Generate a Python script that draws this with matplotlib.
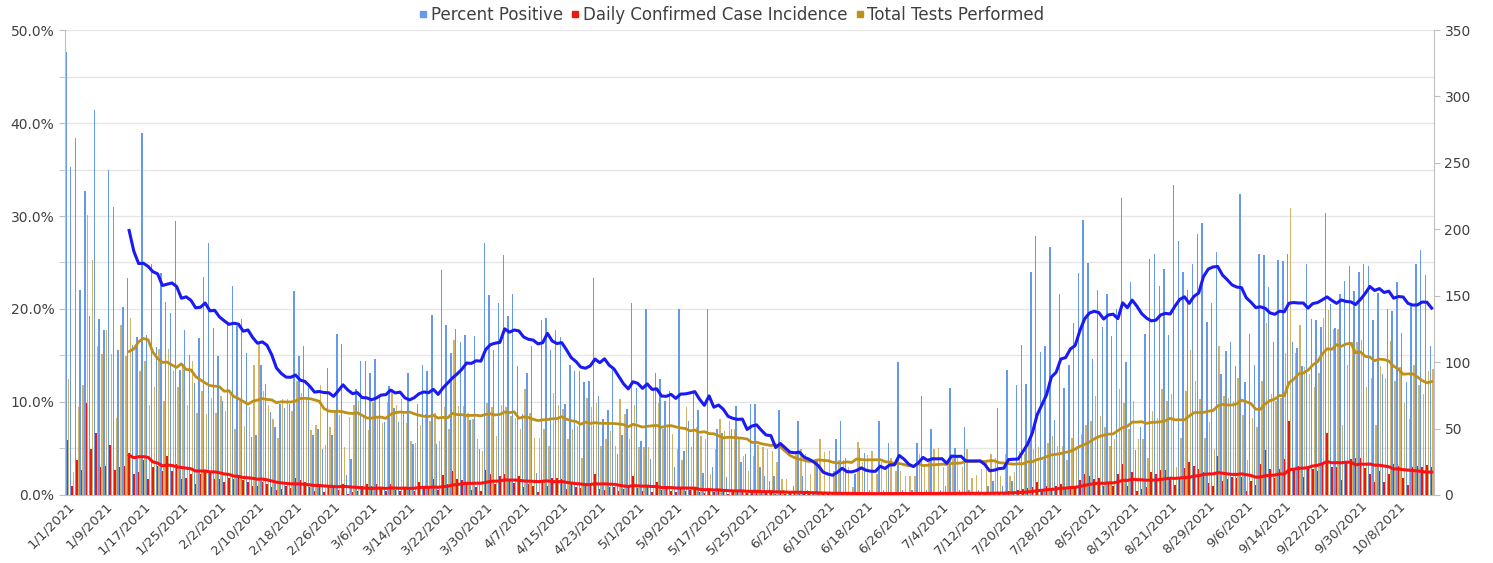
import matplotlib.pyplot as plt
import matplotlib.ticker as mtick
from matplotlib.lines import Line2D
import numpy as np
import pandas as pd

# === Daily data, 1/1/2021 - 10/15/2021 ===
dates = pd.date_range("2021-01-01", "2021-10-15", freq="D")

# percent positive (left axis, %)
pct_positive = [
    47.6, 35.3, 38.4, 22.0, 32.7, 19.2, 41.4, 18.9, 17.7, 34.9, 31.0, 15.6, 20.2, 23.3, 16.1, 17.0, 38.9, 17.2, 24.8, 15.9, 23.9, 20.8, 19.6,
    29.5, 13.4, 17.7, 15.0, 12.0, 16.9, 23.4, 27.1, 18.0, 14.9, 10.1, 18.5, 22.5, 18.2, 18.9, 15.3, 6.2, 6.5, 14.0, 11.9, 8.9, 7.3, 9.8, 9.4,
    9.8, 21.9, 14.9, 16.0, 11.9, 6.4, 7.1, 4.9, 13.7, 6.5, 17.3, 16.2, 2.1, 3.9, 11.4, 14.4, 14.4, 13.1, 14.6, 10.8, 7.8, 11.7, 9.4, 7.8, 8.7,
    13.1, 5.5, 9.8, 14.0, 13.3, 19.4, 5.5, 24.2, 18.3, 15.3, 17.9, 16.5, 17.2, 8.1, 17.1, 4.9, 27.1, 21.5, 15.6, 20.6, 25.8, 19.2, 21.6, 13.9,
    8.7, 13.1, 16.0, 2.4, 18.8, 19.0, 15.6, 17.7, 17.0, 9.8, 14.0, 13.3, 13.3, 12.1, 12.3, 23.3, 10.6, 8.2, 9.1, 13.5, 4.4, 6.5, 9.3, 20.6,
    11.5, 5.8, 20.0, 3.9, 13.1, 12.5, 10.1, 11.2, 3.0, 20.0, 4.7, 8.0, 11.2, 9.1, 2.4, 20.0, 3.0, 7.1, 6.7, 1.9, 7.1, 9.6, 3.5, 4.4,
    9.8, 9.8, 3.0, 2.0, 1.5, 2.0, 9.1, 0.5, 0.3, 1.0, 8.0, 2.0, 0.5, 0.3, 3.9, 0.2, 0.2, 0.2, 6.0, 8.0, 4.0, 0.2, 2.3, 5.0, 4.5,
    0.5, 0.3, 8.0, 0.5, 5.6, 0.3, 14.3, 0.5, 0.3, 0.5, 5.6, 10.6, 0.5, 7.1, 0.3, 0.5, 1.0, 11.5, 5.1, 0.5, 7.3, 0.5, 0.3, 0.5, 0.3, 1.0, 1.5,
    9.4, 1.0, 13.4, 1.5, 11.8, 16.1, 11.9, 24.0, 27.8, 15.4, 16.0, 26.7, 8.1, 21.6, 11.5, 14.0, 18.5, 23.9, 29.6, 24.9, 14.6,
    22.0, 18.1, 21.6, 17.1, 20.0, 31.9, 14.3, 22.9, 4.8, 7.3, 17.3, 25.4, 25.9, 22.5, 24.3, 17.2, 33.3, 27.3, 24.0, 22.0, 24.8, 28.1, 29.3, 18.6,
    20.6, 26.1, 13.0, 15.5, 16.5, 13.9, 32.4, 12.1, 17.3, 14.0, 25.9, 25.8, 22.4, 16.5, 25.3, 25.2, 25.9, 16.5, 15.8, 13.9, 24.8, 18.9, 18.8, 18.1,
    30.3, 20.5, 18.0, 21.6, 23.0, 24.6, 21.9, 24.0, 24.8, 24.6, 18.8, 21.7, 13.0, 20.0, 19.8, 22.9, 17.4, 12.1, 20.3, 24.8, 26.3, 23.7, 16.0,
]

# daily confirmed case incidence (right axis)
incidence = [
    41.5, 7, 26, 19, 69.5, 34.5, 47, 21, 22, 37.5, 19, 21, 22, 31.5, 16, 17.5, 26.5, 12, 21, 22, 18, 29.5, 18,
    23, 12, 13, 16, 8, 16, 18, 17, 12, 12, 9.5, 13, 12, 14.5, 11, 9.5, 7, 7, 9.5, 8, 6, 4, 4.5, 7,
    5, 12.5, 11, 10, 6, 3, 7, 2, 6, 5, 4, 8, 1, 2, 3, 7, 8, 7, 8, 5, 3, 8, 4, 3, 6,
    4, 3, 10, 5, 6, 12, 4, 15, 8, 18, 12, 11, 10, 4, 6, 3, 19, 16, 8, 14, 16, 12, 9, 14.5,
    6, 8.5, 7, 2, 9.5, 7, 12.75, 12.75, 12, 4.5, 8.5, 6, 5, 7, 8.5, 16, 4.5, 3.75, 6, 6, 3.25, 4.5, 6, 14.5,
    5, 3, 6, 2, 9.5, 4, 5, 3, 2, 6, 3, 4, 5, 2, 1.5, 4, 2, 3, 4, 1, 2.5, 3, 2, 1.5,
    3, 4, 2, 1.5, 2, 1, 2.5, 1, 1.5, 2, 1, 1.5, 1, 0.5, 1, 2, 1, 0.5, 1.5, 1, 1, 0.5, 1, 1.5, 1,
    1, 0.5, 1.5, 1, 2, 0.5, 1, 1.5, 0.5, 1, 2, 1.5, 0.5, 1, 2.5, 1, 0.5, 1.5, 2.5, 1, 1.5, 1, 0.5, 1, 2, 1.5, 2,
    2, 1.5, 3, 2.5, 4, 4.5, 5, 6, 10, 4.5, 7, 5, 7, 8, 4.5, 7, 6, 11, 16, 14.5, 12,
    13, 7, 9.5, 7, 16, 23, 7, 17, 3, 4.5, 5.75, 17, 16, 19, 19, 13, 7.5, 12, 20, 24.5, 22, 19.5, 17, 9,
    7, 29.5, 10.75, 12, 13.25, 12.75, 13.75, 3.25, 10.75, 7.5, 23, 34, 19.5, 12.75, 19.5, 27, 56, 19.5, 22, 13.75, 20.75, 19.5, 17.75, 23.75,
    47, 20.75, 20.75, 11.25, 25.75, 27, 28, 28, 20, 16, 9.5, 18, 9.5, 16, 23.25, 22, 12.75, 7.5, 21.25, 22, 20.75, 22.5, 20.75,
]

# total tests performed (right axis)
tests = [
    87, 17, 66, 83, 211, 177, 112, 106, 124.5, 106, 58, 128, 104.5, 133, 113, 93, 101, 68, 81, 110, 71, 110, 93,
    81, 96, 68, 101, 62, 78, 61, 73, 62, 74.5, 63, 76, 49.5, 71, 52, 66, 98, 114.5, 78, 68, 57, 43, 72, 72,
    63, 86, 77, 72, 49, 53, 83, 38, 51, 64, 60, 36, 59, 68, 71, 59, 49, 70, 59, 54, 70, 80, 68, 72,
    54.5, 41, 39.5, 53, 61, 56, 62, 41, 66, 49.5, 117, 67, 67, 62, 57, 42, 33, 69.5, 66, 44.5, 68, 66, 59.5, 58, 50,
    79.5, 62, 43, 43, 49.5, 37, 77, 68, 64.5, 42, 49.5, 52, 28, 73, 66, 69.5, 37, 42, 48, 37, 72, 61, 42, 68,
    36, 36, 36, 79, 69.5, 49.5, 51, 46, 34.5, 26, 66, 36, 51, 44.5, 42, 16, 34.5, 57, 48, 56, 49.5, 42, 29.5, 18,
    29.5, 38, 36, 34.5, 33, 24.5, 12, 12, 3, 31, 34.5, 31, 16, 23, 42, 32, 33, 18, 26, 26, 21, 6, 40, 25,
    30, 33, 16, 25, 20, 28, 18, 18, 14.5, 14.5, 14.5, 31, 23, 28, 34.5, 35, 21, 22, 30, 30, 21, 34.5, 13, 15,
    19.5, 26, 31, 28, 14.5, 31, 14.5, 17, 33, 31, 42, 34.5, 36, 26, 39.5, 44.5, 37, 37, 26, 43, 37, 46, 53, 56, 74.5,
    59.5, 51, 37, 42, 79.5, 69.5, 49.5, 71, 42, 42, 28, 63, 58, 79.5, 71, 76, 21, 43, 78, 109.5, 86, 72, 43, 55,
    34.5, 112, 74.5, 73, 71, 88, 60, 26, 58, 51, 86, 129.5, 76, 71, 73, 107, 216, 107, 128, 96, 91, 81, 92, 133,
    139.5, 125, 125, 53, 98, 115, 115, 117, 81, 88, 53, 97, 88, 116, 86, 96, 69.5, 57, 98, 83, 76, 93, 94.5,
]

series_names = ["Percent Positive", "Daily Confirmed Case Incidence", "Total Tests Performed"]

# === Colors ===
BLUE, RED, GOLD = "#6699EA", "#E8190E", "#C9A240"
BLUE_LINE, RED_LINE, GOLD_LINE = "#1A1AF5", "#FF1010", "#BF9018"
GRID, AXIS, TXT = "#E6E6E6", "#BFBFBF", "#404040"

df = pd.DataFrame({"pct": pct_positive, "inc": incidence, "tests": tests}, index=dates)
avg = df.rolling(14).mean()  # 14 day moving average
x = np.arange(len(df))

fig = plt.figure(figsize=(14.93, 5.63), dpi=100)
ax = fig.add_axes([0.0435, 0.1208, 0.917, 0.8259])
ax2 = ax.twinx()
ax3 = ax.twinx()  # blue average on top of everything

w = 0.3
ax.bar(x - w, df["pct"], width=w, color=BLUE, zorder=2)
ax2.bar(x, df["inc"], width=w, color=RED, zorder=2)
ax2.bar(x + w, df["tests"], width=w, color=GOLD, alpha=0.8, zorder=2)
ax2.plot(x, avg["tests"], color=GOLD_LINE, lw=2, zorder=3)
ax2.plot(x, avg["inc"], color=RED_LINE, lw=2.2, zorder=3)
ax3.plot(x, avg["pct"], color=BLUE_LINE, lw=2.2)

# === Axes ===
ax.set_xlim(-0.5, len(x) - 0.5)
ax.set_ylim(0, 50)
ax2.set_ylim(0, 350)
ax3.set_ylim(0, 50)
ax3.set_axis_off()

ax.yaxis.set_major_locator(mtick.MultipleLocator(10))
ax.yaxis.set_minor_locator(mtick.MultipleLocator(5))
ax.yaxis.set_major_formatter(mtick.FuncFormatter(lambda v, p: f"{v:.1f}%"))
ax.grid(axis="y", which="both", color=GRID, lw=1)
ax.set_axisbelow(True)
ax.tick_params(axis="y", which="both", length=4, color=AXIS, labelsize=10, labelcolor=TXT)
ax2.yaxis.set_major_locator(mtick.MultipleLocator(50))
ax2.tick_params(axis="y", length=4, color=AXIS, labelsize=10, labelcolor=TXT)

tick_idx = x[::8]
ax.set_xticks(tick_idx)
ax.set_xticklabels([f"{d.month}/{d.day}/{d.year}" for d in dates[::8]],
                   rotation=45, ha="right", rotation_mode="anchor", fontsize=9.5, color=TXT)
ax.tick_params(axis="x", length=0, pad=3)

for a in (ax, ax2):
    for s in a.spines.values():
        s.set_visible(False)
ax.spines["left"].set_visible(True)
ax.spines["bottom"].set_visible(True)
ax2.spines["right"].set_visible(True)
for s in (ax.spines["left"], ax.spines["bottom"], ax2.spines["right"]):
    s.set_color(AXIS)

# === Legend ===
handles = [Line2D([], [], marker="s", ls="none", color=c, markersize=5) for c in (BLUE, RED, GOLD_LINE)]
fig.legend(handles, series_names, loc="center", bbox_to_anchor=(0.49, 0.974), ncol=3, frameon=False,
           fontsize=12, handlelength=0.5, handletextpad=0.2, columnspacing=0.5, labelcolor="#404040")

fig.savefig("out.png", dpi=100)
